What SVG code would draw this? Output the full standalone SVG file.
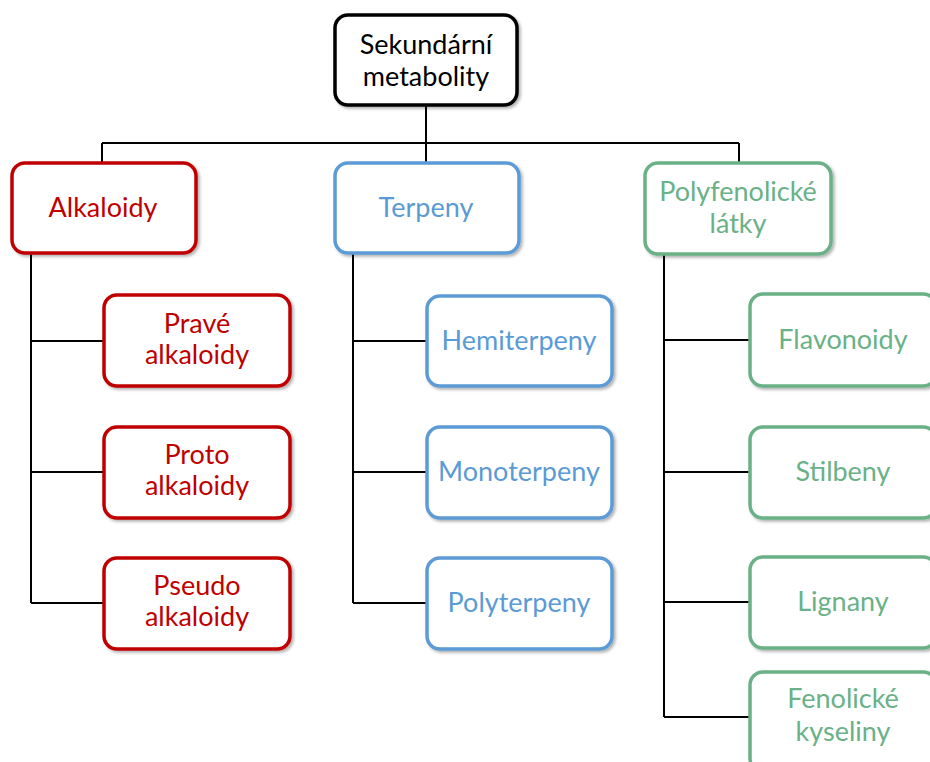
<svg xmlns="http://www.w3.org/2000/svg" width="930" height="762" viewBox="0 0 930 762">
<style>
.box{fill:#fff;stroke-width:3.5;filter:url(#sh)}
.r .box{stroke:#C00000}.r text{fill:#C00000}
.b .box{stroke:#5B9BD5}.b text{fill:#5B9BD5}
.g .box{stroke:#6AB187}.g text{fill:#6AB187}
.k .box{stroke:#000}.k text{fill:#000}
text{font-family:Lato,"Open Sans","Liberation Sans",sans-serif;font-size:27px;text-anchor:middle}
.c{fill:none;stroke:#000;stroke-width:2}
</style>
<defs>
<filter id="sh" x="-10%" y="-10%" width="130%" height="130%"><feDropShadow dx="2" dy="2" stdDeviation="1.5" flood-color="#000" flood-opacity="0.3"/></filter>
</defs>
<rect width="930" height="762" fill="#fff"/>
<g id="connectors">
<path class="c" d="M426 105V143M102 143H739M102 143V163M426 143V163M739 143V163"/>
<path class="c" d="M31 254V603M31 341H104M31 472H104M31 603H104"/>
<path class="c" d="M353 254V603M353 341H427M353 472H427M353 603H427"/>
<path class="c" d="M664 254V717M664 340H750M664 472H750M664 602H750M664 717H750"/>
</g>
<g id="n0" class="k"><rect class="box" x="335" y="15" width="182" height="90" rx="13"/><text x="426" y="54">Sekundární</text><text x="426" y="86">metabolity</text></g>
<g id="n1" class="r"><rect class="box" x="12" y="163" width="184" height="90" rx="13"/><text x="103" y="217">Alkaloidy</text></g>
<g id="n2" class="r"><rect class="box" x="104" y="295" width="186" height="91" rx="13"/><text x="197" y="333">Pravé</text><text x="197" y="364">alkaloidy</text></g>
<g id="n3" class="r"><rect class="box" x="104" y="427" width="186" height="91" rx="13"/><text x="197" y="464">Proto</text><text x="197" y="495">alkaloidy</text></g>
<g id="n4" class="r"><rect class="box" x="104" y="558" width="186" height="91" rx="13"/><text x="197" y="595">Pseudo</text><text x="197" y="626">alkaloidy</text></g>
<g id="n5" class="b"><rect class="box" x="335" y="163" width="184" height="90" rx="13"/><text x="426" y="217">Terpeny</text></g>
<g id="n6" class="b"><rect class="box" x="427" y="296" width="185" height="90" rx="13"/><text x="519" y="350">Hemiterpeny</text></g>
<g id="n7" class="b"><rect class="box" x="427" y="427" width="185" height="91" rx="13"/><text x="519" y="481">Monoterpeny</text></g>
<g id="n8" class="b"><rect class="box" x="427" y="558" width="185" height="91" rx="13"/><text x="519" y="612">Polyterpeny</text></g>
<g id="n9" class="g"><rect class="box" x="645" y="163" width="186" height="91" rx="13"/><text x="738" y="201">Polyfenolické</text><text x="738" y="233">látky</text></g>
<g id="n10" class="g"><rect class="box" x="750" y="294" width="186" height="92" rx="13"/><text x="843" y="349">Flavonoidy</text></g>
<g id="n11" class="g"><rect class="box" x="750" y="427" width="186" height="91" rx="13"/><text x="843" y="481">Stilbeny</text></g>
<g id="n12" class="g"><rect class="box" x="750" y="557" width="186" height="91" rx="13"/><text x="843" y="611">Lignany</text></g>
<g id="n13" class="g"><rect class="box" x="750" y="672" width="186" height="100" rx="13"/><text x="843" y="708">Fenolické</text><text x="843" y="741">kyseliny</text></g>
</svg>
